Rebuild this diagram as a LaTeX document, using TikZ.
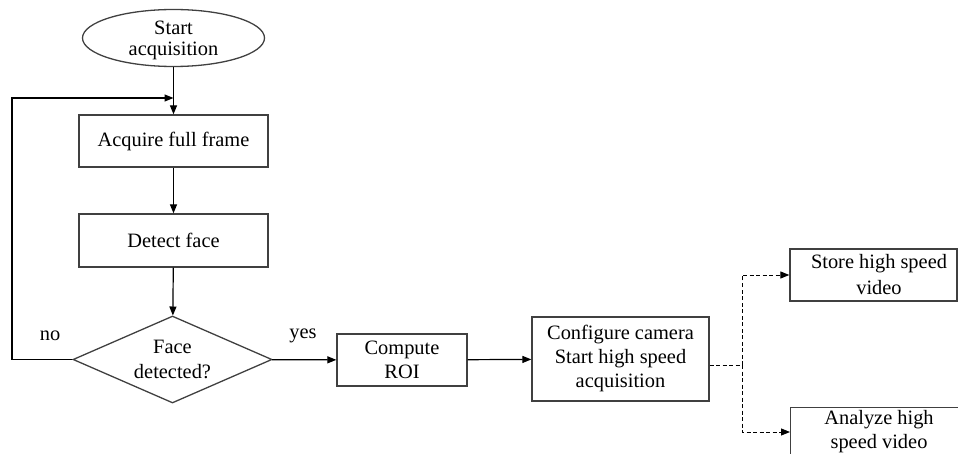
\documentclass[tikz,border=0pt]{standalone}
\usepackage{fontspec}
\setmainfont{Liberation Serif}
\usetikzlibrary{arrows.meta,shapes.geometric}
\begin{document}
\begin{tikzpicture}[x=1pt,y=-1pt,
  every node/.style={font=\fontsize{20.4}{24.5}\selectfont, text=black, align=center, inner sep=0pt},
  shapeline/.style={draw=black!75, line width=1.3pt},
  stepbox/.style={shapeline, minimum width=#1, rectangle},
  stepbox/.default=189pt,
  arr/.style={draw=black, line width=1.2pt, -{Triangle[length=9pt,width=7pt]}},
  dashline/.style={draw=black, line width=0.9pt, dash pattern=on 4pt off 2.5pt},
  darr/.style={dashline, -{Triangle[length=9pt,width=7pt]}}]
\useasboundingbox (0,0) rectangle (958,454);
\clip (0,0) rectangle (958,454);

% process chain
\node[shapeline, ellipse, minimum width=182pt, minimum height=57pt] (start) at (173.5,38) {};
\node at (173.5,28) {Start};
\node at (173.5,51) {acquisition};
\node[stepbox, minimum height=52pt] (acq) at (173.5,141) {Acquire full frame};
\node[stepbox, minimum height=53pt] (det) at (173.5,240.5) {Detect face};
\node[shapeline, diamond, aspect=2.29, minimum width=199pt, minimum height=87pt] (dec) at (172.5,359.5) {Face\\detected?};
\node[stepbox=130pt, minimum height=52pt] (roi) at (402,360) {Compute\\ROI};
\node[stepbox=177pt, minimum height=84pt] (cfg) at (620.5,359) {};
\node at (620.5,335) {Configure camera};
\node at (620.5,359) {Start high speed};
\node at (620.5,383) {acquisition};

% outputs
\node[stepbox=167pt, minimum height=52pt] (store) at (873.5,275) {};
\node at (879,264) {Store high speed};
\node at (879,288) {video};
\node[stepbox=178pt, minimum height=58pt, anchor=north west] (ana) at (790,407) {};
\node at (879,420) {Analyze high};
\node at (879,444) {speed video};

\node (no) at (50,336) {no};
\node (yes) at (303,336) {yes};

\coordinate (loopL) at (12,359.5);
\coordinate (loopT) at (12,98);
\coordinate (join) at (173.5,98);
\coordinate (fork) at (742,365);

\draw[arr] (start) -- (acq);
\draw[arr] (acq) -- (det);
\draw[arr] (det) -- (dec);
\draw[arr] (dec.west) -- (loopL) -- (loopT) -- (join);
\draw[arr] (dec) -- (roi);
\draw[arr] (roi) -- (cfg);
\draw[dashline] (cfg.east |- fork) -- (fork);
\draw[darr] (fork) |- (store.west);
\draw[darr] (fork) |- (ana.west |- 0,432);
\end{tikzpicture}
\end{document}
